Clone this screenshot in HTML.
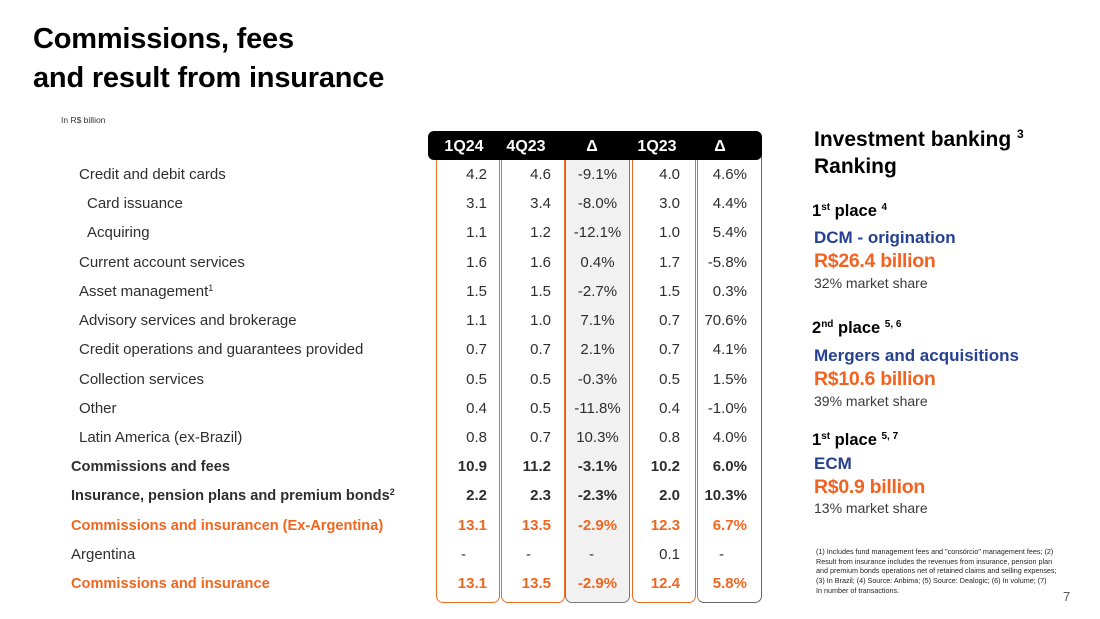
<!DOCTYPE html>
<html>
<head>
<meta charset="utf-8">
<style>
*{margin:0;padding:0;box-sizing:border-box}
html,body{width:1100px;height:619px;background:#fff;overflow:hidden}
body{position:relative;font-family:"Liberation Sans",Arial,sans-serif;color:#2e2e2e}
sup{line-height:0;position:relative}
.abs{position:absolute;white-space:nowrap}
.title{left:33px;font-size:29px;font-weight:bold;color:#000;line-height:34px;letter-spacing:-0.2px}
.unit{left:61px;top:115px;font-size:8.5px;color:#333}
.hdr{position:absolute;left:428px;top:131px;width:334px;height:29px;background:#000;border-radius:6px}
.hl{position:absolute;top:131px;height:29px;line-height:31px;color:#fff;font-weight:bold;font-size:16px;text-align:center;width:60px}
.box{position:absolute;top:150px;height:453px;border:1.5px solid #f06a22;border-top:none;border-radius:0 0 7px 7px}
.row{position:absolute;left:0;width:1100px;height:22px;line-height:22px;font-size:15px}
.row span{position:absolute;top:0;white-space:nowrap}
.lab{left:79px}
.sub{left:87px}
.tot{left:71px}
.c1{left:436px;width:51px;text-align:right}
.c2{left:501px;width:50px;text-align:right}
.c3{left:565px;width:65px;text-align:center}
.c4{left:632px;width:48px;text-align:right}
.c5{left:697px;width:50px;text-align:right}
.b{font-weight:bold}
.b span.lbl{font-size:14.6px}
.o{color:#f0661f}
.rp{left:814px}
.h2{font-size:21px;font-weight:bold;color:#000;line-height:27px}
.place{font-size:16.5px;font-weight:bold;color:#000;line-height:22px}
.place sup{font-size:10px;top:-6px;vertical-align:baseline;font-weight:bold}
.blue{font-size:17px;font-weight:bold;color:#26418f;line-height:22px}
.amt{font-size:19.5px;font-weight:bold;color:#f26322;letter-spacing:-0.3px;line-height:24px}
.ms{font-size:14px;color:#3a3a3a;line-height:18px}
.fn{left:816px;top:547px;font-size:7.2px;line-height:9.7px;color:#222}
</style>
</head>
<body>
<div class="abs title" style="top:22px">Commissions, fees</div>
<div class="abs title" style="top:61px">and result from insurance</div>
<div class="abs unit">In R$ billion</div>

<!-- column boxes -->
<div class="box" style="left:436px;width:64px"></div>
<div class="box" style="left:501px;width:64px"></div>
<div class="box" style="left:565px;width:65px;border-color:#7a7a7a;background:#f1f1f1"></div>
<div class="box" style="left:632px;width:64px"></div>
<div class="box" style="left:697px;width:65px;border-left-color:#888;border-right-color:#666;border-bottom-color:#666"></div>

<div class="hdr"></div>
<div class="hl" style="left:434px">1Q24</div>
<div class="hl" style="left:496px">4Q23</div>
<div class="hl" style="left:562px">&#916;</div>
<div class="hl" style="left:627px">1Q23</div>
<div class="hl" style="left:690px">&#916;</div>

<div class="row" style="top:164px"><span class="lab">Credit and debit cards</span><span class="c1">4.2</span><span class="c2">4.6</span><span class="c3">-9.1%</span><span class="c4">4.0</span><span class="c5">4.6%</span></div>
<div class="row" style="top:193px"><span class="sub">Card issuance</span><span class="c1">3.1</span><span class="c2">3.4</span><span class="c3">-8.0%</span><span class="c4">3.0</span><span class="c5">4.4%</span></div>
<div class="row" style="top:222px"><span class="sub">Acquiring</span><span class="c1">1.1</span><span class="c2">1.2</span><span class="c3">-12.1%</span><span class="c4">1.0</span><span class="c5">5.4%</span></div>
<div class="row" style="top:252px"><span class="lab">Current account services</span><span class="c1">1.6</span><span class="c2">1.6</span><span class="c3">0.4%</span><span class="c4">1.7</span><span class="c5">-5.8%</span></div>
<div class="row" style="top:281px"><span class="lab">Asset management<sup style="font-size:9px;top:-5px;vertical-align:baseline">1</sup></span><span class="c1">1.5</span><span class="c2">1.5</span><span class="c3">-2.7%</span><span class="c4">1.5</span><span class="c5">0.3%</span></div>
<div class="row" style="top:310px"><span class="lab">Advisory services and brokerage</span><span class="c1">1.1</span><span class="c2">1.0</span><span class="c3">7.1%</span><span class="c4">0.7</span><span class="c5">70.6%</span></div>
<div class="row" style="top:339px"><span class="lab">Credit operations and guarantees provided</span><span class="c1">0.7</span><span class="c2">0.7</span><span class="c3">2.1%</span><span class="c4">0.7</span><span class="c5">4.1%</span></div>
<div class="row" style="top:369px"><span class="lab">Collection services</span><span class="c1">0.5</span><span class="c2">0.5</span><span class="c3">-0.3%</span><span class="c4">0.5</span><span class="c5">1.5%</span></div>
<div class="row" style="top:398px"><span class="lab">Other</span><span class="c1">0.4</span><span class="c2">0.5</span><span class="c3">-11.8%</span><span class="c4">0.4</span><span class="c5">-1.0%</span></div>
<div class="row" style="top:427px"><span class="lab">Latin America (ex-Brazil)</span><span class="c1">0.8</span><span class="c2">0.7</span><span class="c3">10.3%</span><span class="c4">0.8</span><span class="c5">4.0%</span></div>
<div class="row b" style="top:456px"><span class="tot lbl">Commissions and fees</span><span class="c1">10.9</span><span class="c2">11.2</span><span class="c3">-3.1%</span><span class="c4">10.2</span><span class="c5">6.0%</span></div>
<div class="row b" style="top:485px"><span class="tot lbl">Insurance, pension plans and premium bonds<sup style="font-size:9px;top:-5px;vertical-align:baseline">2</sup></span><span class="c1">2.2</span><span class="c2">2.3</span><span class="c3">-2.3%</span><span class="c4">2.0</span><span class="c5">10.3%</span></div>
<div class="row b o" style="top:515px"><span class="tot lbl">Commissions and insurancen (Ex-Argentina)</span><span class="c1">13.1</span><span class="c2">13.5</span><span class="c3">-2.9%</span><span class="c4">12.3</span><span class="c5">6.7%</span></div>
<div class="row" style="top:544px"><span class="tot">Argentina</span><span style="left:461px">-</span><span style="left:526px">-</span><span style="left:589px">-</span><span class="c4">0.1</span><span style="left:719px">-</span></div>
<div class="row b o" style="top:573px"><span class="tot lbl">Commissions and insurance</span><span class="c1">13.1</span><span class="c2">13.5</span><span class="c3">-2.9%</span><span class="c4">12.4</span><span class="c5">5.8%</span></div>

<!-- right panel -->
<div class="abs rp h2" style="top:126px">Investment banking <sup style="font-size:12px;top:-8px;vertical-align:baseline">3</sup></div>
<div class="abs rp h2" style="top:153px">Ranking</div>

<div class="abs place" style="left:812px;top:200px">1<sup>st</sup> place <sup>4</sup></div>
<div class="abs rp blue" style="top:227px">DCM - origination</div>
<div class="abs rp amt" style="top:249px">R$26.4 billion</div>
<div class="abs rp ms" style="top:274px">32% market share</div>

<div class="abs place" style="left:812px;top:317px">2<sup>nd</sup> place <sup>5, 6</sup></div>
<div class="abs rp blue" style="top:345px">Mergers and acquisitions</div>
<div class="abs rp amt" style="top:367px">R$10.6 billion</div>
<div class="abs rp ms" style="top:392px">39% market share</div>

<div class="abs place" style="left:812px;top:429px">1<sup>st</sup> place <sup>5, 7</sup></div>
<div class="abs rp blue" style="top:453px">ECM</div>
<div class="abs rp amt" style="top:475px">R$0.9 billion</div>
<div class="abs rp ms" style="top:499px">13% market share</div>

<div class="abs fn">(1) Includes fund management fees and "consórcio" management fees; (2)<br>Result from insurance includes the revenues from insurance, pension plan<br>and premium bonds operations net of retained claims and selling expenses;<br>(3) In Brazil; (4) Source: Anbima; (5) Source: Dealogic; (6) In volume; (7)<br>In number of transactions.</div>
<div class="abs" style="left:1063px;top:589px;font-size:13px;color:#555">7</div>
</body>
</html>
